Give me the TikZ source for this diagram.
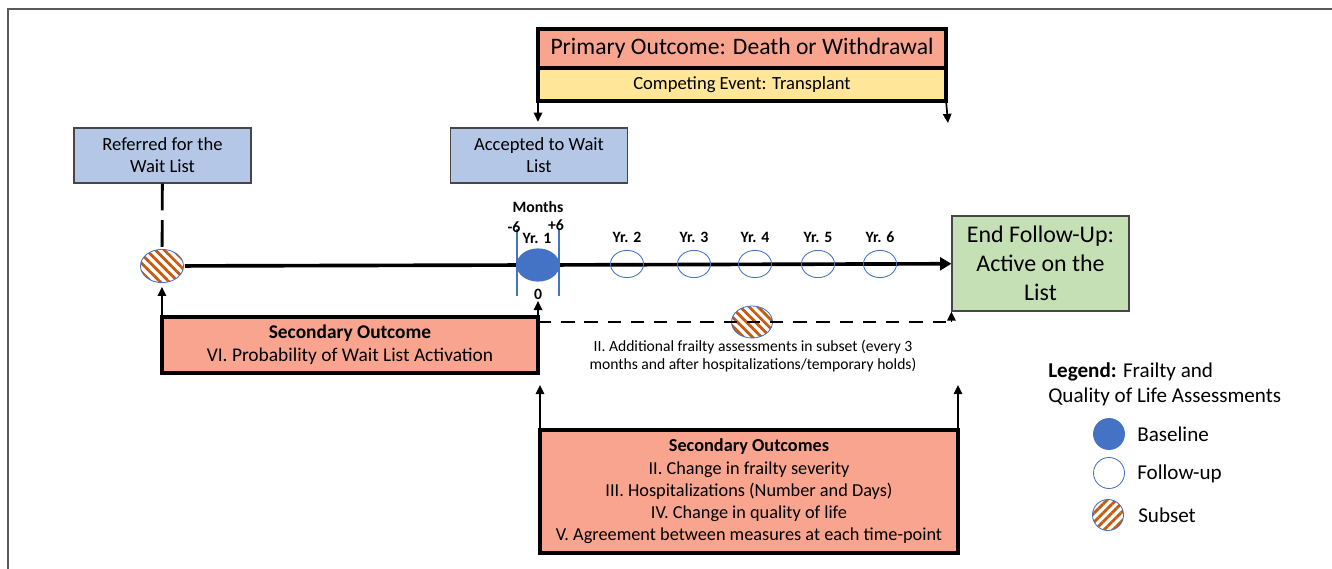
\documentclass[tikz,border=0pt]{standalone}
\usepackage{fontspec}
\setmainfont{Carlito}
\usetikzlibrary{positioning,shapes.geometric,arrows.meta,patterns.meta}
\definecolor{salmon}{RGB}{248,164,142}
\definecolor{compyellow}{RGB}{255,230,153}
\definecolor{waitblue}{RGB}{180,199,231}
\definecolor{endgreen}{RGB}{197,224,180}
\definecolor{markblue}{RGB}{68,114,196}
\definecolor{hatch}{RGB}{197,90,17}
\definecolor{boxline}{RGB}{70,70,70}
\definecolor{framegray}{RGB}{90,90,90}

\begin{document}
\begin{tikzpicture}[x=0.025cm,y=-0.025cm,
  bluebox/.style={draw=boxline,fill=waitblue,line width=0.8pt,minimum width=4.425cm,
    minimum height=1.375cm,align=center,font=\fontsize{13.2}{15.5}\selectfont},
  outbox/.style={draw=black,fill=salmon,line width=2.6pt,align=center,outer sep=0pt,
    font=\fontsize{13}{15.8}\selectfont},
  arr/.style={line width=1.2pt,-{Triangle[length=6.5pt,width=6pt]}},
  timeline/.style={line width=2.6pt},
  dashlink/.style={line width=2pt,dash pattern=on 19pt off 7pt},
  dashsub/.style={line width=1.2pt,dash pattern=on 9.5pt off 7pt},
  subset/.style={ellipse,draw=markblue,line width=0.6pt,
    pattern={Lines[angle=-45,distance=4.5pt,line width=2pt]},pattern color=hatch,
    minimum width=1.075cm,minimum height=0.83cm,inner sep=0pt},
  fu/.style={ellipse,draw=markblue,line width=0.6pt,minimum width=0.825cm,
    minimum height=0.68cm,inner sep=0pt},
  lab/.style={font=\bfseries\fontsize{11.2}{12}\selectfont,inner sep=1pt},
  legmark/.style={circle,draw=markblue,line width=0.6pt,minimum size=0.775cm,inner sep=0pt},
  legtext/.style={anchor=west,font=\fontsize{15}{17}\selectfont,inner sep=0pt}]
\useasboundingbox (0,0) rectangle (1332,569);
\draw[framegray,line width=0.8pt] (1332,9) -- (8,9) -- (8,569);

% primary outcome
\node[outbox,minimum width=10.2cm,minimum height=0.975cm,
  font=\fontsize{16.8}{19}\selectfont] (primbox) at (742,48.5) {Primary Outcome: Death or Withdrawal};
\node[outbox,fill=compyellow,minimum width=10.2cm,minimum height=0.825cm,below=0pt of primbox,
  font=\fontsize{13.2}{15}\selectfont] (compbox) {Competing Event: Transplant};

% wait list boxes
\node[bluebox] (refbox) at (162.5,155.5) {Referred for the\\Wait List};
\node[bluebox] (accbox) at (539,155.5) {Accepted to Wait\\List};
\draw[arr] (compbox.south west) -- ([yshift=4pt]compbox.south west |- accbox.north);
\coordinate (primend) at (948,123);
\draw[arr] (compbox.south east) -- (primend);

% timeline
\node[subset] (subL) at (162,266) {};
\node[ellipse,fill=markblue,minimum width=1.075cm,minimum height=0.83cm,inner sep=0pt]
  (base) at (538,265) {};
\node[draw=boxline,fill=endgreen,line width=0.8pt,minimum width=4.425cm,minimum height=2.375cm,
  align=center,font=\fontsize{17}{20.5}\selectfont] (endbox) at (1040.5,263.5)
  {End Follow-Up:\\Active on the\\List};
\draw[dashlink] (refbox) -- (subL);
\draw[timeline] (subL) -- (base);
\draw[timeline,-{Triangle[length=8pt,width=9pt]}] (base) -- (endbox);
\foreach \n/\x in {2/627,3/694,4/755,5/818,6/880}{
  \node[fu] (fu\n) at (\x,264) {};
  \node[lab] (yr\n) at (\x,237) {Yr. \n};
}
\draw[markblue,line width=2pt] ([shift={(-21,-36)}]base.center) -- ++(0,67);
\draw[markblue,line width=2pt] ([shift={(21,-36)}]base.center) -- ++(0,67);
\node[lab] (months) at (538,207) {Months};
\node[lab] (minus) at (514,227) {-6};
\node[lab] (plus) at (556,225) {+6};
\node[lab] (yr1) at (537,238) {Yr. 1};
\node[lab] (zero) at (538,294) {0};

% secondary outcome VI
\node[outbox,minimum width=9.4cm,minimum height=1.4cm,font=\fontsize{13.8}{16.5}\selectfont]
  (secL) at (350,345) {\textbf{Secondary Outcome}\\VI. Probability of Wait List Activation};
\draw[arr] (secL.north west) -- ([yshift=-2pt]secL.north west |- subL.south);
\draw[arr] (secL.north east) -- (zero.south);

% additional subset assessments
\node[subset,minimum width=1.025cm,minimum height=0.8cm] (subM) at (752,322) {};
\draw[dashsub] (secL.north east |- subM) -- (endbox.south west |- subM);
\draw[arr] (endbox.south west |- subM) -- (endbox.south west);
\node[align=center,font=\fontsize{11.1}{13}\selectfont] (addtext) at (753,356)
  {II. Additional frailty assessments in subset (every 3\\months and after hospitalizations/temporary holds)};

% secondary outcomes II--V
\node[outbox,minimum width=10.45cm,minimum height=3.075cm] (secB) at (749,491.5)
  {\textbf{Secondary Outcomes}\\II. Change in frailty severity\\III. Hospitalizations (Number and Days)\\
   IV. Change in quality of life\\V. Agreement between measures at each time-point};
\coordinate (secBtipL) at (540,385);
\coordinate (secBtipR) at (958,385);
\draw[arr] (secB.north west) -- (secBtipL);
\draw[arr] (secB.north east) -- (secBtipR);

% legend
\node[anchor=north west,align=left,inner sep=0pt,font=\fontsize{15}{18}\selectfont] (legtitle)
  at (1048,362) {\textbf{Legend:} Frailty and\\Quality of Life Assessments};
\node[legmark,fill=markblue] (lbase) at (1109,434) {};
\node[legmark] (lfu) at (1109,473) {};
\node[legmark,pattern={Lines[angle=45,distance=4.5pt,line width=2pt]},pattern color=hatch]
  (lsub) at (1108,515) {};
\node[legtext] (lbasetext) at (1137,434) {Baseline};
\node[legtext] (lfutext) at (1137,474) {Follow-up};
\node[legtext] (lsubtext) at (1138,515) {Subset};
\end{tikzpicture}
\end{document}
